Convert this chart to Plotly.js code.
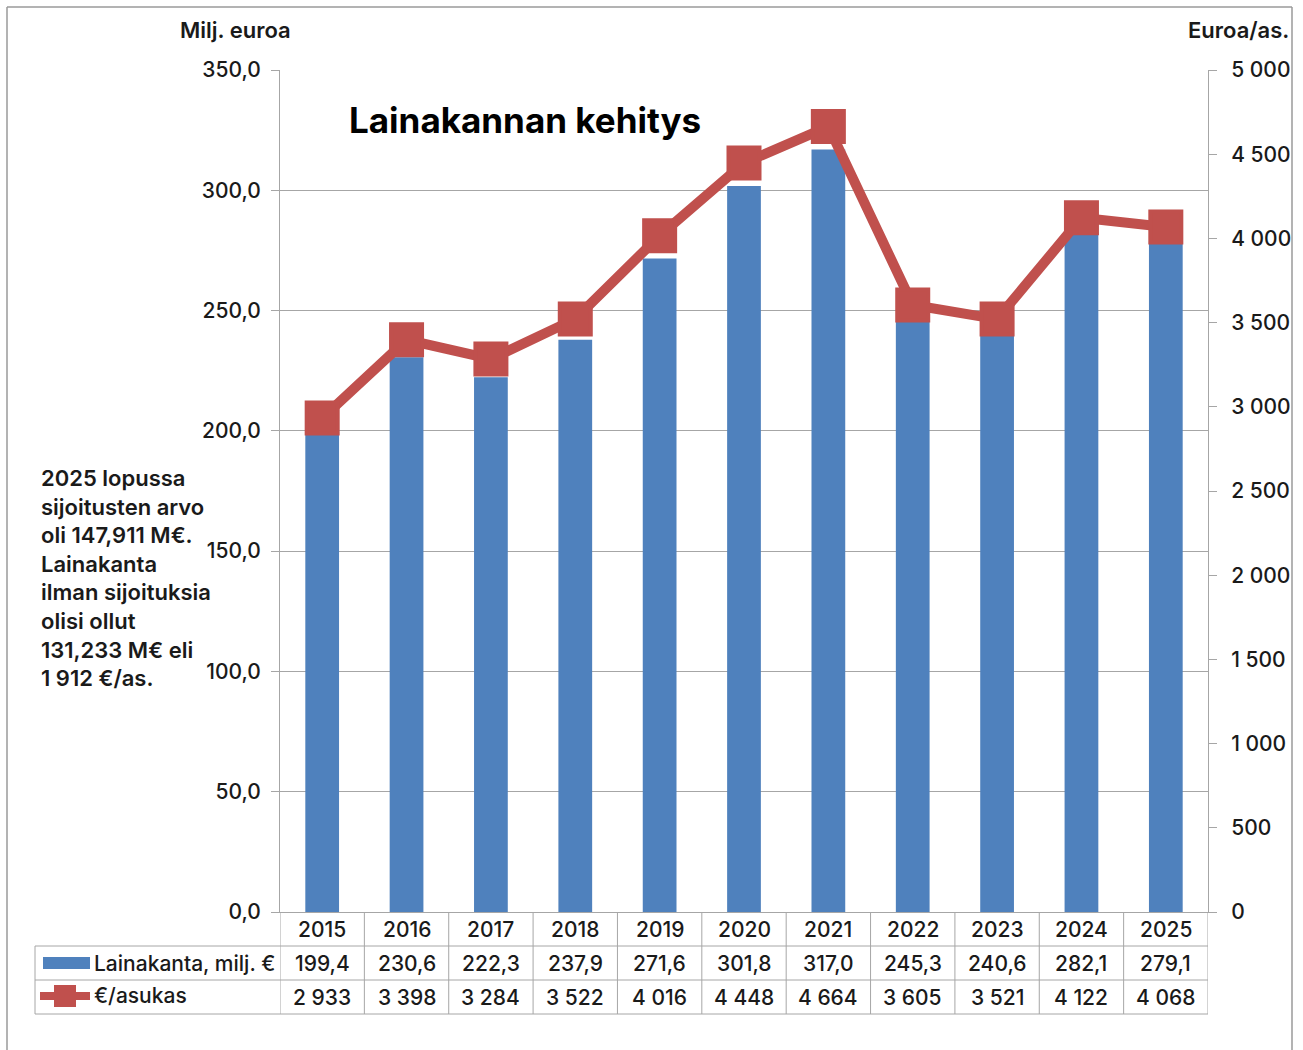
<!DOCTYPE html>
<html><head><meta charset="utf-8">
<script src="https://cdn.plot.ly/plotly-3.0.1.min.js"></script>
<style>html,body{margin:0;padding:0;background:#fff}#chart{width:1303px;height:1050px}</style>
</head><body><div id="chart"></div>
<script>
const years = ['2015','2016','2017','2018','2019','2020','2021','2022','2023','2024','2025'];
const loans = [199.4, 230.6, 222.3, 237.9, 271.6, 301.8, 317.0, 245.3, 240.6, 282.1, 279.1];
const perCapita = [2933, 3398, 3284, 3522, 4016, 4448, 4664, 3605, 3521, 4122, 4068];
const seriesNames = ['Lainakanta, milj. €', '€/asukas'];
const noteLines = ['2025 lopussa','sijoitusten arvo','oli 147,911 M€.','Lainakanta','ilman sijoituksia','olisi ollut','131,233 M€ eli','1 912 €/as.'];

const W = 1303, H = 1050, L = 280, R = 1208, T = 70, B = 912;
const pw = R - L, ph = B - T;
const px = x => (x - L) / pw;
const py = y => (B - y) / ph;
const FONT = 'Inter, "Noto Sans", sans-serif';
const blue = '#4F81BD', red = '#C0504D', grid = '#A6A6A6', ink = '#1a1a1a';

const fmt1 = v => v.toFixed(1).replace('.', ',');
const fmtInt = v => String(v).replace(/\B(?=(\d{3})+(?!\d))/g, ' ');

const traces = [
  {type:'bar', x:years, y:loans, name:seriesNames[0], marker:{color:blue}, yaxis:'y', hoverinfo:'skip'},
  {type:'scatter', mode:'lines+markers', x:years, y:perCapita, name:seriesNames[1], yaxis:'y2',
   line:{color:red, width:10}, marker:{symbol:'square', size:31, color:red, line:{color:red, width:4}}, hoverinfo:'skip'}
];

const shapes = [];
const annotations = [];
const rowY = [B, 946, 980, 1014];
for (let r = 1; r <= 3; r++) {
  shapes.push({type:'line', xref:'paper', yref:'paper', x0:px(35), x1:1, y0:py(rowY[r]), y1:py(rowY[r]), line:{color:grid, width:1}});
}
for (let i = 0; i <= years.length; i++) {
  shapes.push({type:'line', xref:'x', yref:'paper', x0:i-0.5, x1:i-0.5, y0:0, y1:py(rowY[3]), line:{color:grid, width:1}});
}
shapes.push({type:'line', xref:'paper', yref:'paper', x0:px(35), x1:px(35), y0:py(rowY[1]), y1:py(rowY[3]), line:{color:grid, width:1}});
// legend swatches
shapes.push({type:'rect', xref:'paper', yref:'paper', x0:px(43), x1:px(90), y0:py(969), y1:py(957), fillcolor:blue, line:{width:0}});
shapes.push({type:'line', xref:'paper', yref:'paper', x0:px(40), x1:px(90), y0:py(996), y1:py(996), line:{color:red, width:8}});
shapes.push({type:'rect', xref:'paper', yref:'paper', x0:px(54), x1:px(76), y0:py(1007), y1:py(985), fillcolor:red, line:{width:0}});
// outer frame
const frame = '#9a9a9a';
shapes.push({type:'line', xref:'paper', yref:'paper', x0:px(7), x1:px(7), y0:py(1050), y1:py(7), line:{color:frame, width:1.5}});
shapes.push({type:'line', xref:'paper', yref:'paper', x0:px(7), x1:px(1292), y0:py(7), y1:py(7), line:{color:frame, width:1.5}});
shapes.push({type:'line', xref:'paper', yref:'paper', x0:px(1292), x1:px(1292), y0:py(1050), y1:py(7), line:{color:frame, width:1.5}});

const cellFont = {family:FONT, size:21, color:ink, weight:500};
years.forEach((yr, i) => {
  const cx = px(L + (i + 0.5) * pw / years.length);
  annotations.push({xref:'paper', yref:'paper', x:cx, y:py(929), text:yr, showarrow:false, font:cellFont, xanchor:'center', yanchor:'middle'});
  annotations.push({xref:'paper', yref:'paper', x:cx, y:py(963), text:fmt1(loans[i]), showarrow:false, font:cellFont, xanchor:'center', yanchor:'middle'});
  annotations.push({xref:'paper', yref:'paper', x:cx, y:py(997), text:fmtInt(perCapita[i]), showarrow:false, font:cellFont, xanchor:'center', yanchor:'middle'});
});
annotations.push({xref:'paper', yref:'paper', x:px(92), y:py(963), text:seriesNames[0], showarrow:false, font:{family:FONT, size:21, color:ink, weight:500}, xanchor:'left', yanchor:'middle'});
annotations.push({xref:'paper', yref:'paper', x:px(92), y:py(996), text:seriesNames[1], showarrow:false, font:{family:FONT, size:21, color:ink, weight:500}, xanchor:'left', yanchor:'middle'});

noteLines.forEach((t, i) => {
  annotations.push({xref:'paper', yref:'paper', x:px(39), y:py(478 + i*28.6), text:t, showarrow:false, font:{family:FONT, size:22, color:ink, weight:600}, xanchor:'left', yanchor:'middle'});
});

annotations.push({xref:'paper', yref:'paper', x:px(235), y:py(30), text:'Milj. euroa', showarrow:false, font:{family:FONT, size:22, color:ink, weight:600}, xanchor:'center', yanchor:'middle'});
annotations.push({xref:'paper', yref:'paper', x:px(1291), y:py(30), text:'Euroa/as.', showarrow:false, font:{family:FONT, size:22, color:ink, weight:600}, xanchor:'right', yanchor:'middle'});
annotations.push({xref:'paper', yref:'paper', x:px(525), y:py(120), text:'Lainakannan kehitys', showarrow:false, font:{family:FONT, size:35, color:'#000', weight:700}, xanchor:'center', yanchor:'middle'});

const layout = {
  width:W, height:H,
  margin:{l:L, r:W-R, t:T, b:H-B, pad:0},
  paper_bgcolor:'#fff', plot_bgcolor:'#fff',
  separators:', ',
  showlegend:false,
  bargap:0.6,
  font:{family:FONT, color:ink},
  xaxis:{type:'category', showticklabels:false, ticks:'', showgrid:false, showline:true, linecolor:grid, linewidth:1, range:[-0.5, 10.5], zeroline:false, fixedrange:true},
  yaxis:{range:[0,350], tickvals:[0,50,100,150,200,250,300,350], tickformat:'.1f', showgrid:true, gridcolor:grid, gridwidth:1,
         showline:true, linecolor:grid, ticks:'outside', ticklen:8, tickcolor:grid, zeroline:false,
         tickfont:{family:FONT, size:21, color:ink, weight:500}, ticklabelstandoff:6},
  yaxis2:{range:[0,5000], overlaying:'y', side:'right', tickvals:[0,500,1000,1500,2000,2500,3000,3500,4000,4500,5000], tickformat:',d',
          showgrid:false, showline:true, linecolor:grid, ticks:'outside', ticklen:8, tickcolor:grid, zeroline:false,
          tickfont:{family:FONT, size:21, color:ink, weight:500}, ticklabelstandoff:10},
  shapes:shapes,
  annotations:annotations
};
Plotly.newPlot('chart', traces, layout, {displayModeBar:false, staticPlot:true});
</script>
</body></html>
